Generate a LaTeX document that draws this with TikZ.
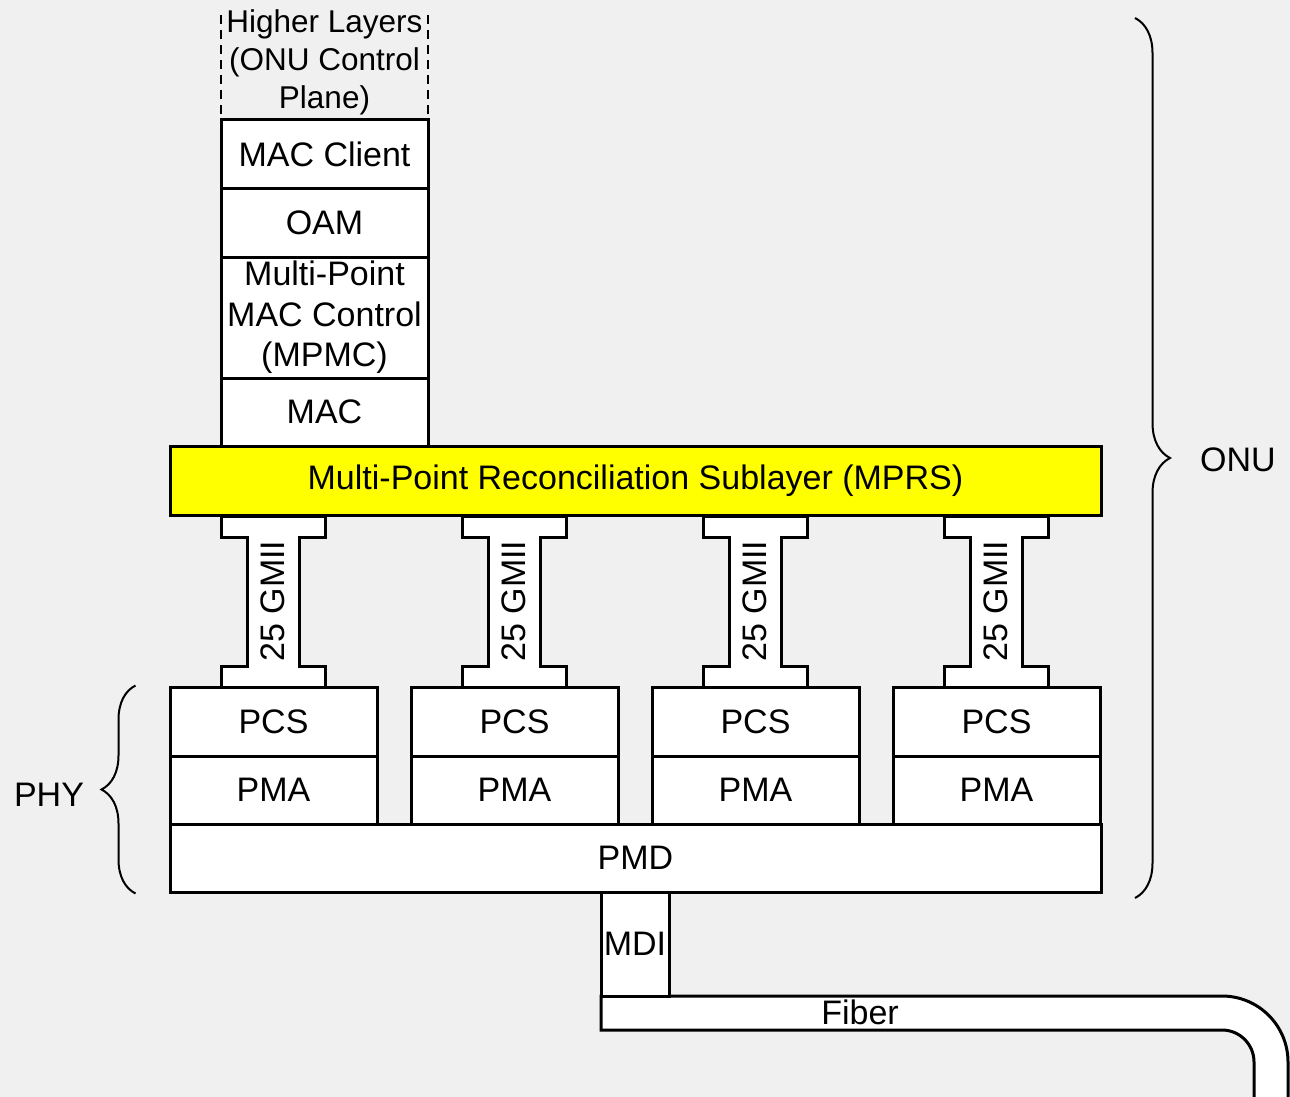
\documentclass[tikz,border=0pt]{standalone}
\usepackage{fontspec}
\setmainfont{Liberation Sans}
\usetikzlibrary{positioning,decorations.pathreplacing}
\definecolor{cback}{RGB}{240,240,240}
\definecolor{cmprs}{RGB}{255,255,0}

\begin{document}
\begin{tikzpicture}[x=1pt, y=-1pt,
  layerbox/.style={draw, fill=white, line width=3pt, inner sep=0pt,
    align=center, font=\fontsize{34}{40.5}\selectfont},
  lbl/.style={inner sep=0pt, align=center, font=\fontsize{34}{38}\selectfont},
  bracemark/.style={line width=2pt, decorate}]
\clip (0,0) rectangle (1290,1097);
\fill[cback] (0,0) rectangle (1290,1097);
\draw[line width=1.5pt, dash pattern=on 9pt off 6pt] (221,15) -- (221,120);
\draw[line width=1.5pt, dash pattern=on 9pt off 6pt] (428,15) -- (428,120);
\node[lbl, font=\fontsize{31.5}{38}\selectfont] (higher) at (324.5,62)
  {Higher Layers\\(ONU Control\\Plane)};
\foreach \i/\cx in {1/273.5, 2/514.5, 3/755.5, 4/996.5} {
  \draw[line width=3pt, fill=white, line join=miter]
    (\cx-52,516) -- (\cx+52,516) -- (\cx+52,537) -- (\cx+26,537)
    -- (\cx+26,666) -- (\cx+52,666) -- (\cx+52,687) -- (\cx-52,687)
    -- (\cx-52,666) -- (\cx-26,666) -- (\cx-26,537) -- (\cx-52,537) -- cycle;
  \node[lbl, rotate=90] (gmii\i) at (\cx-1,601) {25 GMII};
  \node[layerbox, minimum width=207pt, minimum height=69pt] (pcs\i)
    at (\cx,721.5) {PCS};
  \node[layerbox, minimum width=207pt, minimum height=68pt] (pma\i)
    at (\cx,790) {PMA};
}
\node[layerbox, minimum width=207pt, minimum height=68pt] (client)
  at (324.5,154) {MAC Client};
\node[layerbox, minimum width=207pt, minimum height=69pt] (oam)
  at (324.5,222.5) {OAM};
\node[layerbox, minimum width=207pt, minimum height=121pt] (mpmc)
  at (324.5,317.5) {Multi-Point\\MAC Control\\(MPMC)};
\node[layerbox, minimum width=207pt, minimum height=68pt] (mac)
  at (324.5,412) {MAC};
\node[layerbox, fill=cmprs, minimum width=931pt, minimum height=69pt] (mprs)
  at (635.5,480.5) {Multi-Point Reconciliation Sublayer (MPRS)};
\node[layerbox, minimum width=931pt, minimum height=68pt] (pmd)
  at (635.5,858) {PMD};
\draw[line width=3pt, fill=white]
  (601,996) -- (1222,996) arc(-90:0:66) -- (1288,1110) -- (1254,1110)
  -- (1254,1062) arc(0:-90:32) -- (601,1030) -- cycle;
\node[layerbox, minimum width=68pt, minimum height=104pt] (mdi)
  at (635,944) {MDI};
\node[lbl] (fiber) at (860,1012) {Fiber};
\draw[bracemark, decoration={brace, amplitude=35pt}] (1135,18) -- (1135,898);
\node[lbl] (onu) at (1238,460) {ONU};
\draw[bracemark, decoration={brace, amplitude=34pt}]
  ([xshift=-33pt]pmd.south west) -- ([xshift=-33pt]pcs1.north west);
\node[lbl] (phy) at (49,795) {PHY};
\end{tikzpicture}
\end{document}
